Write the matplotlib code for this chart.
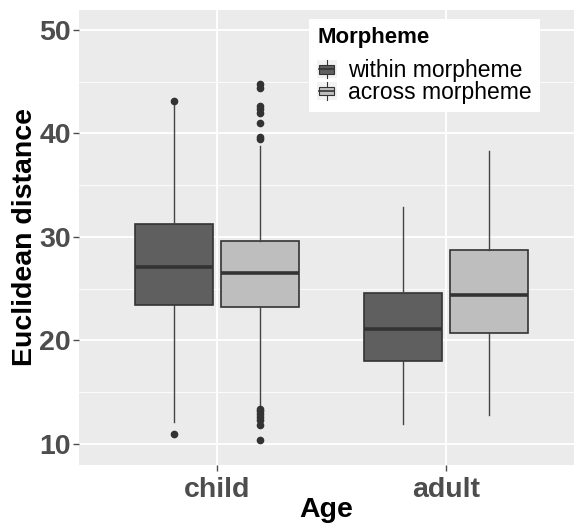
import matplotlib
matplotlib.use("Agg")
import matplotlib.pyplot as plt
from matplotlib.patches import Rectangle, Patch
from matplotlib.lines import Line2D
from matplotlib.legend_handler import HandlerBase

# ---- data ----
ages = ["child", "adult"]
groups = ["within morpheme", "across morpheme"]

within_whislo = [12.1, 11.9]
within_q1 = [23.4, 18.0]
within_med = [27.1, 21.1]
within_q3 = [31.3, 24.6]
within_whishi = [42.8, 32.9]
within_fliers = [[43.1, 11.0], []]

across_whislo = [13.6, 12.8]
across_q1 = [23.2, 20.7]
across_med = [26.5, 24.4]
across_q3 = [29.6, 28.7]
across_whishi = [38.8, 38.3]
across_fliers = [[44.8, 44.4, 42.7, 42.4, 42.0, 41.0, 39.7, 39.5,
                  13.4, 13.2, 12.9, 12.6, 12.3, 11.8, 10.4], []]

y_ticks = [10, 20, 30, 40, 50]

# ---- style ----
plt.rcParams['font.family'] = ['Liberation Sans', 'DejaVu Sans']
fill_colors = ["#5f5f5f", "#bebebe"]
edge = "#333333"
panel_bg = "#EBEBEB"
tick_col = "#4D4D4D"

fig = plt.figure(figsize=(5.74, 5.29), dpi=100)
ax = fig.add_axes([79/574, 1 - 465/529, 1 - 79/574, (465 - 10)/529])
ax.set_facecolor(panel_bg)

offset = 0.1875
box_w = 0.34

def make_stats(wlo, q1, med, q3, whi, fl):
    return [dict(whislo=wlo[i], q1=q1[i], med=med[i], q3=q3[i], whishi=whi[i],
                 fliers=fl[i], label=ages[i]) for i in range(len(ages))]

series = [
    (make_stats(within_whislo, within_q1, within_med, within_q3, within_whishi, within_fliers), -offset, fill_colors[0]),
    (make_stats(across_whislo, across_q1, across_med, across_q3, across_whishi, across_fliers), offset, fill_colors[1]),
]

for stats, off, col in series:
    pos = [i + 1 + off for i in range(len(ages))]
    ax.bxp(stats, positions=pos, widths=box_w, patch_artist=True, showcaps=False,
           boxprops=dict(facecolor=col, edgecolor=edge, linewidth=1.2),
           whiskerprops=dict(color="#444444", linewidth=1.0),
           medianprops=dict(color=edge, linewidth=2.6, solid_capstyle='butt'),
           flierprops=dict(marker='o', markerfacecolor=edge, markeredgecolor=edge,
                           markersize=4.5, linestyle='none'),
           manage_ticks=False, zorder=3)

ax.set_xlim(0.4, 2.558)
ax.set_ylim(7.97, 51.93)
ax.set_xticks([1, 2])
ax.set_xticklabels(ages)
ax.set_yticks(y_ticks)
ax.set_yticks([15, 25, 35, 45], minor=True)

ax.grid(True, which='major', color='white', linewidth=1.3, zorder=0)
ax.grid(True, which='minor', axis='y', color='white', linewidth=0.6, zorder=0)
ax.set_axisbelow(True)
for s in ax.spines.values():
    s.set_visible(False)

ax.tick_params(axis='both', which='major', length=4, width=1, color=tick_col,
               labelcolor=tick_col, labelsize=20.5, pad=2)
ax.tick_params(axis='x', which='major', pad=4.5)
ax.tick_params(axis='both', which='minor', length=0)
for lab in ax.get_xticklabels() + ax.get_yticklabels():
    lab.set_fontweight('bold')

ax.set_xlabel("Age", fontsize=20.5, fontweight='bold', color='black', labelpad=-4)
ax.set_ylabel("Euclidean distance", fontsize=20.5, fontweight='bold', color='black', labelpad=1)


class BoxHandler(HandlerBase):
    def create_artists(self, legend, orig_handle, xdescent, ydescent, width, height,
                       fontsize, trans):
        fc = orig_handle.get_facecolor()
        x0, y0 = -xdescent, -ydescent
        cx = x0 + width / 2
        bg = Rectangle((x0, y0), width, height, facecolor="#F2F2F2", edgecolor='none',
                       transform=trans)
        wl = Line2D([cx, cx], [y0, y0 + height], color=edge, lw=0.8, transform=trans)
        bw = width * 0.75
        bh = height * 0.5
        box = Rectangle((cx - bw / 2, y0 + (height - bh) / 2), bw, bh, facecolor=fc,
                        edgecolor=edge, lw=0.8, transform=trans)
        md = Line2D([cx - bw / 2, cx + bw / 2], [y0 + height / 2, y0 + height / 2],
                    color=edge, lw=1.2, transform=trans)
        return [bg, wl, box, md]


handles = [Patch(facecolor=c, label=g) for c, g in zip(fill_colors, groups)]
leg = ax.legend(handles=handles, labels=groups, title="Morpheme",
                handler_map={Patch: BoxHandler()},
                loc='upper left', bbox_to_anchor=(309/574, 1 - 19/529),
                bbox_transform=fig.transFigure, borderaxespad=0,
                frameon=True, fancybox=False, framealpha=1, edgecolor='none',
                facecolor='white', fontsize=16.5, title_fontsize=16,
                handlelength=0.85, handleheight=0.8, handletextpad=0.5,
                labelspacing=-0.05, borderpad=0.35, alignment='left')
leg.get_title().set_fontweight('bold')
leg._legend_box.sep = 8
leg.set_zorder(5)

fig.savefig("out.png", dpi=100)
